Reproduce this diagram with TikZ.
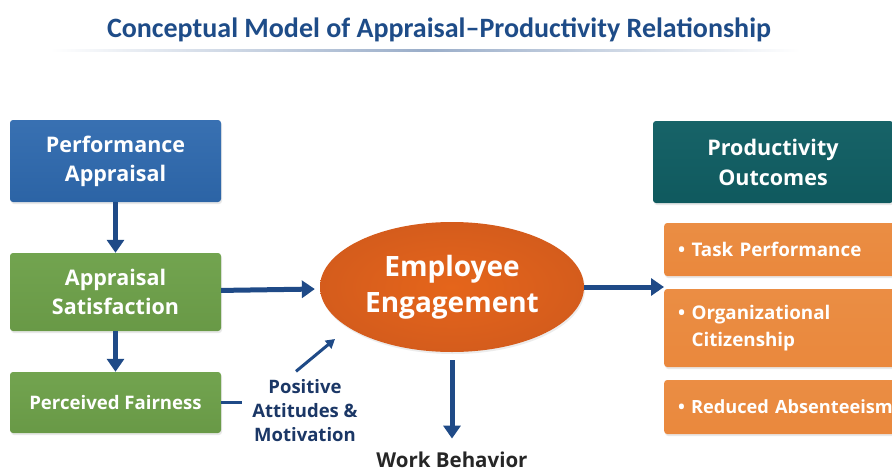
\documentclass[tikz,border=0pt]{standalone}
\usepackage{fontspec}
\setmainfont{Open Sans}
\newfontfamily\headfont{Carlito}
\usetikzlibrary{arrows.meta,positioning,shapes.geometric,shadows}
\definecolor{navy}{HTML}{1F4A87}
\definecolor{titleblue}{HTML}{1E4C88}
\definecolor{labelnavy}{HTML}{1B3766}
\definecolor{apblue}{HTML}{2E69AE}
\definecolor{leafgreen}{HTML}{6EA14A}
\definecolor{deepteal}{HTML}{105E63}
\definecolor{burnt}{HTML}{E2621E}
\definecolor{amber}{HTML}{EA8A3E}

\begin{document}
\begin{tikzpicture}[
    x=1pt,
    y=-1pt,
    every node/.style={font=\bfseries},
    box/.style={rounded corners=3pt, text=white, align=center, inner sep=0pt,
      drop shadow={opacity=0.18, shadow xshift=1pt, shadow yshift=-2pt}},
    inputbox/.style={box, minimum width=211, font=\fontsize{21.5}{29}\selectfont\bfseries},
    outbox/.style={box, anchor=west, text width=250, inner xsep=14pt, align=left,
      top color=amber!97!white, bottom color=amber!95!burnt,
      font=\fontsize{18.8}{27}\selectfont\bfseries},
    flowarrow/.style={-{Triangle[width=17pt,length=13pt]}, line width=5pt, navy},
    thinarrow/.style={-{Triangle[width=10pt,length=9pt]}, line width=3pt, navy},
    sidelabel/.style={text=labelnavy, align=center, font=\fontsize{18.5}{24}\selectfont\bfseries}
  ]
  \useasboundingbox (0,0) rectangle (892,471);
  \fill[white] (0,0) rectangle (892,471);
  \clip (0,0) rectangle (892,471);

  % heading
  \node[text=titleblue, font=\headfont\fontsize{28}{32}\selectfont\bfseries] (title) at (439,30)
    {Conceptual Model of Appraisal\textendash Productivity Relationship};
  \shade[left color=white, right color=white, middle color=navy!45] (50,49.5) rectangle (800,51.5);

  % appraisal side
  \node[inputbox, minimum height=82, top color=apblue!95!white, bottom color=apblue!95!black] (perf) at (115.5,161)
    {Performance\\Appraisal};
  \node[inputbox, minimum height=78, top color=leafgreen!97!white, bottom color=leafgreen!95!black] (satis) at (115.5,292)
    {Appraisal\\Satisfaction};
  \node[inputbox, minimum height=61, top color=leafgreen!97!white, bottom color=leafgreen!95!black,
    font=\fontsize{18.6}{24}\selectfont\bfseries] (fair) at (115.5,402.5) {Perceived Fairness};
  \node[sidelabel] (motiv) at (305,411) {Positive\\Attitudes \&\\Motivation};

  % engagement
  \node[ellipse, minimum width=264, minimum height=130, inner sep=0pt, text=white, align=center,
    inner color=burnt!90!orange, outer color=burnt!94!black,
    font=\fontsize{28}{36}\selectfont\bfseries,
    drop shadow={opacity=0.15, shadow xshift=1pt, shadow yshift=-2pt}] (engage) at (452,287)
    {Employee\\Engagement};
  \node[text=black!85, font=\fontsize{20.5}{24}\selectfont\bfseries] (work) at (452,460) {Work Behavior};

  % productivity side
  \node[box, minimum width=240, minimum height=82, top color=deepteal!97!white, bottom color=deepteal!95!black,
    font=\fontsize{21.5}{30}\selectfont\bfseries] (prod) at (773,162) {Productivity\\Outcomes};
  \node[outbox, minimum height=53] (task) at (664,249.5) {\textbullet\ Task Performance};
  \node[outbox, minimum height=78] (ocb) at (664,328)
    {\textbullet\ Organizational\\\hphantom{\textbullet\ }Citizenship};
  \node[outbox, minimum height=54, font=\fontsize{18.2}{27}\selectfont\bfseries] (absent) at (664,407)
    {\textbullet\ Reduced Absenteeism};

  % connectors
  \draw[flowarrow] (perf) -- (satis);
  \draw[flowarrow] (satis) -- (fair);
  \draw[flowarrow, shorten >=5pt] (satis) -- (engage);
  \draw[flowarrow] (engage) -- (engage -| ocb.west);
  \draw[flowarrow, shorten <=8pt, shorten >=10pt] (engage.south) -- (work.north);
  \draw[line width=3pt, navy, shorten >=7pt] (fair.east) -- (fair.east -| motiv.west);
  \coordinate (tipin) at (335,339);
  \draw[thinarrow] ([shift={(-9,-5)}]motiv.north) -- (tipin);
\end{tikzpicture}
\end{document}
